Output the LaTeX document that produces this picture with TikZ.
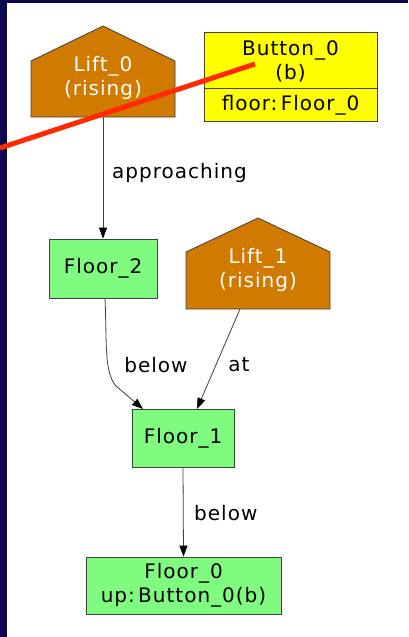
\documentclass[tikz,border=0pt]{standalone}
\usepackage{fontspec}
\setmainfont{DejaVu Sans}[LetterSpace=5]
\usetikzlibrary{arrows.meta}
\definecolor{frame}{HTML}{0B0850}
\definecolor{liftorange}{HTML}{D17A00}
\definecolor{floorgreen}{HTML}{7FFC7F}
\definecolor{buttonyellow}{HTML}{FFFF00}
\definecolor{marker}{HTML}{FF2A00}
\tikzset{
  lbl/.style={font=\fontsize{20}{24}\selectfont, text=black, align=center, inner sep=0pt},
  liftlbl/.style={lbl, text=white},
  box/.style={draw=black!75, line width=0.8pt},
  floorbox/.style={box, fill=floorgreen},
  edge/.style={draw=black!75, line width=0.8pt, -{Triangle[length=11pt,width=8pt,color=black]}},
}
\begin{document}
\begin{tikzpicture}[x=1pt,y=-1pt]
\useasboundingbox (0,0) rectangle (408,637);
% slide background
\fill[frame] (0,0) rectangle (408,637);
\fill[white] (7,3) rectangle (408,637);

% Lift_0 (house shape)
\filldraw[box, fill=liftorange] (31,117) -- (31,61) -- (103,26) -- (175,61) -- (175,117) -- cycle;
\coordinate (lift0s) at (103,117);
\node[liftlbl] (lift0) at (103,78) {Lift\_0\\(rising)};

% Button_0 record
\filldraw[box, fill=buttonyellow] (204,32) rectangle (377,121);
\draw[box] (204,88) -- (377,88);
\node[lbl] (button0) at (290.5,61) {Button\_0\\(b)};
\node[lbl] (button0f) at (290.5,105) {floor:\,Floor\_0};

% Floor_2
\node[floorbox, minimum width=108pt, minimum height=59pt, inner sep=0pt] (floor2) at (103,268.5) {};
\node[lbl] at (floor2) {Floor\_2};

% Lift_1 (house shape)
\filldraw[box, fill=liftorange] (186,309) -- (186,252) -- (258,218) -- (330,252) -- (330,309) -- cycle;
\coordinate (lift1s) at (240,309);
\node[liftlbl] (lift1) at (258,270) {Lift\_1\\(rising)};

% Floor_1
\node[floorbox, minimum width=102pt, minimum height=58pt, inner sep=0pt] (floor1) at (183,438) {};
\node[lbl] at (floor1) {Floor\_1};

% Floor_0
\node[floorbox, minimum width=195pt, minimum height=57pt, inner sep=0pt] (floor0) at (183.5,585.5) {};
\node[lbl] at (floor0) {Floor\_0\\up:\,Button\_0(b)};

% relations
\draw[edge] (lift0s) -- (floor2.north);
\node[lbl, anchor=west] (lapp) at (112,173) {approaching};

\coordinate (f2out) at (105,298);
\coordinate (f1inl) at (143,409);
\draw[edge] (f2out) .. controls (107,345) and (104,372) .. (116,386) -- (f1inl);
\node[lbl] (lbel1) at (156,365) {below};

\coordinate (f1inr) at (197,409);
\draw[edge] (lift1s) -- (f1inr);
\node[lbl] (lat) at (239,365) {at};

\draw[edge] (floor1.south) -- (floor0.north);
\node[lbl, anchor=west] (lbel0) at (194,513) {below};

% marker stroke across the top
\coordinate (mk1) at (0,148);
\coordinate (mk2) at (255,64);
\draw[marker, line width=5pt] (mk1) -- (mk2);
\end{tikzpicture}
\end{document}
